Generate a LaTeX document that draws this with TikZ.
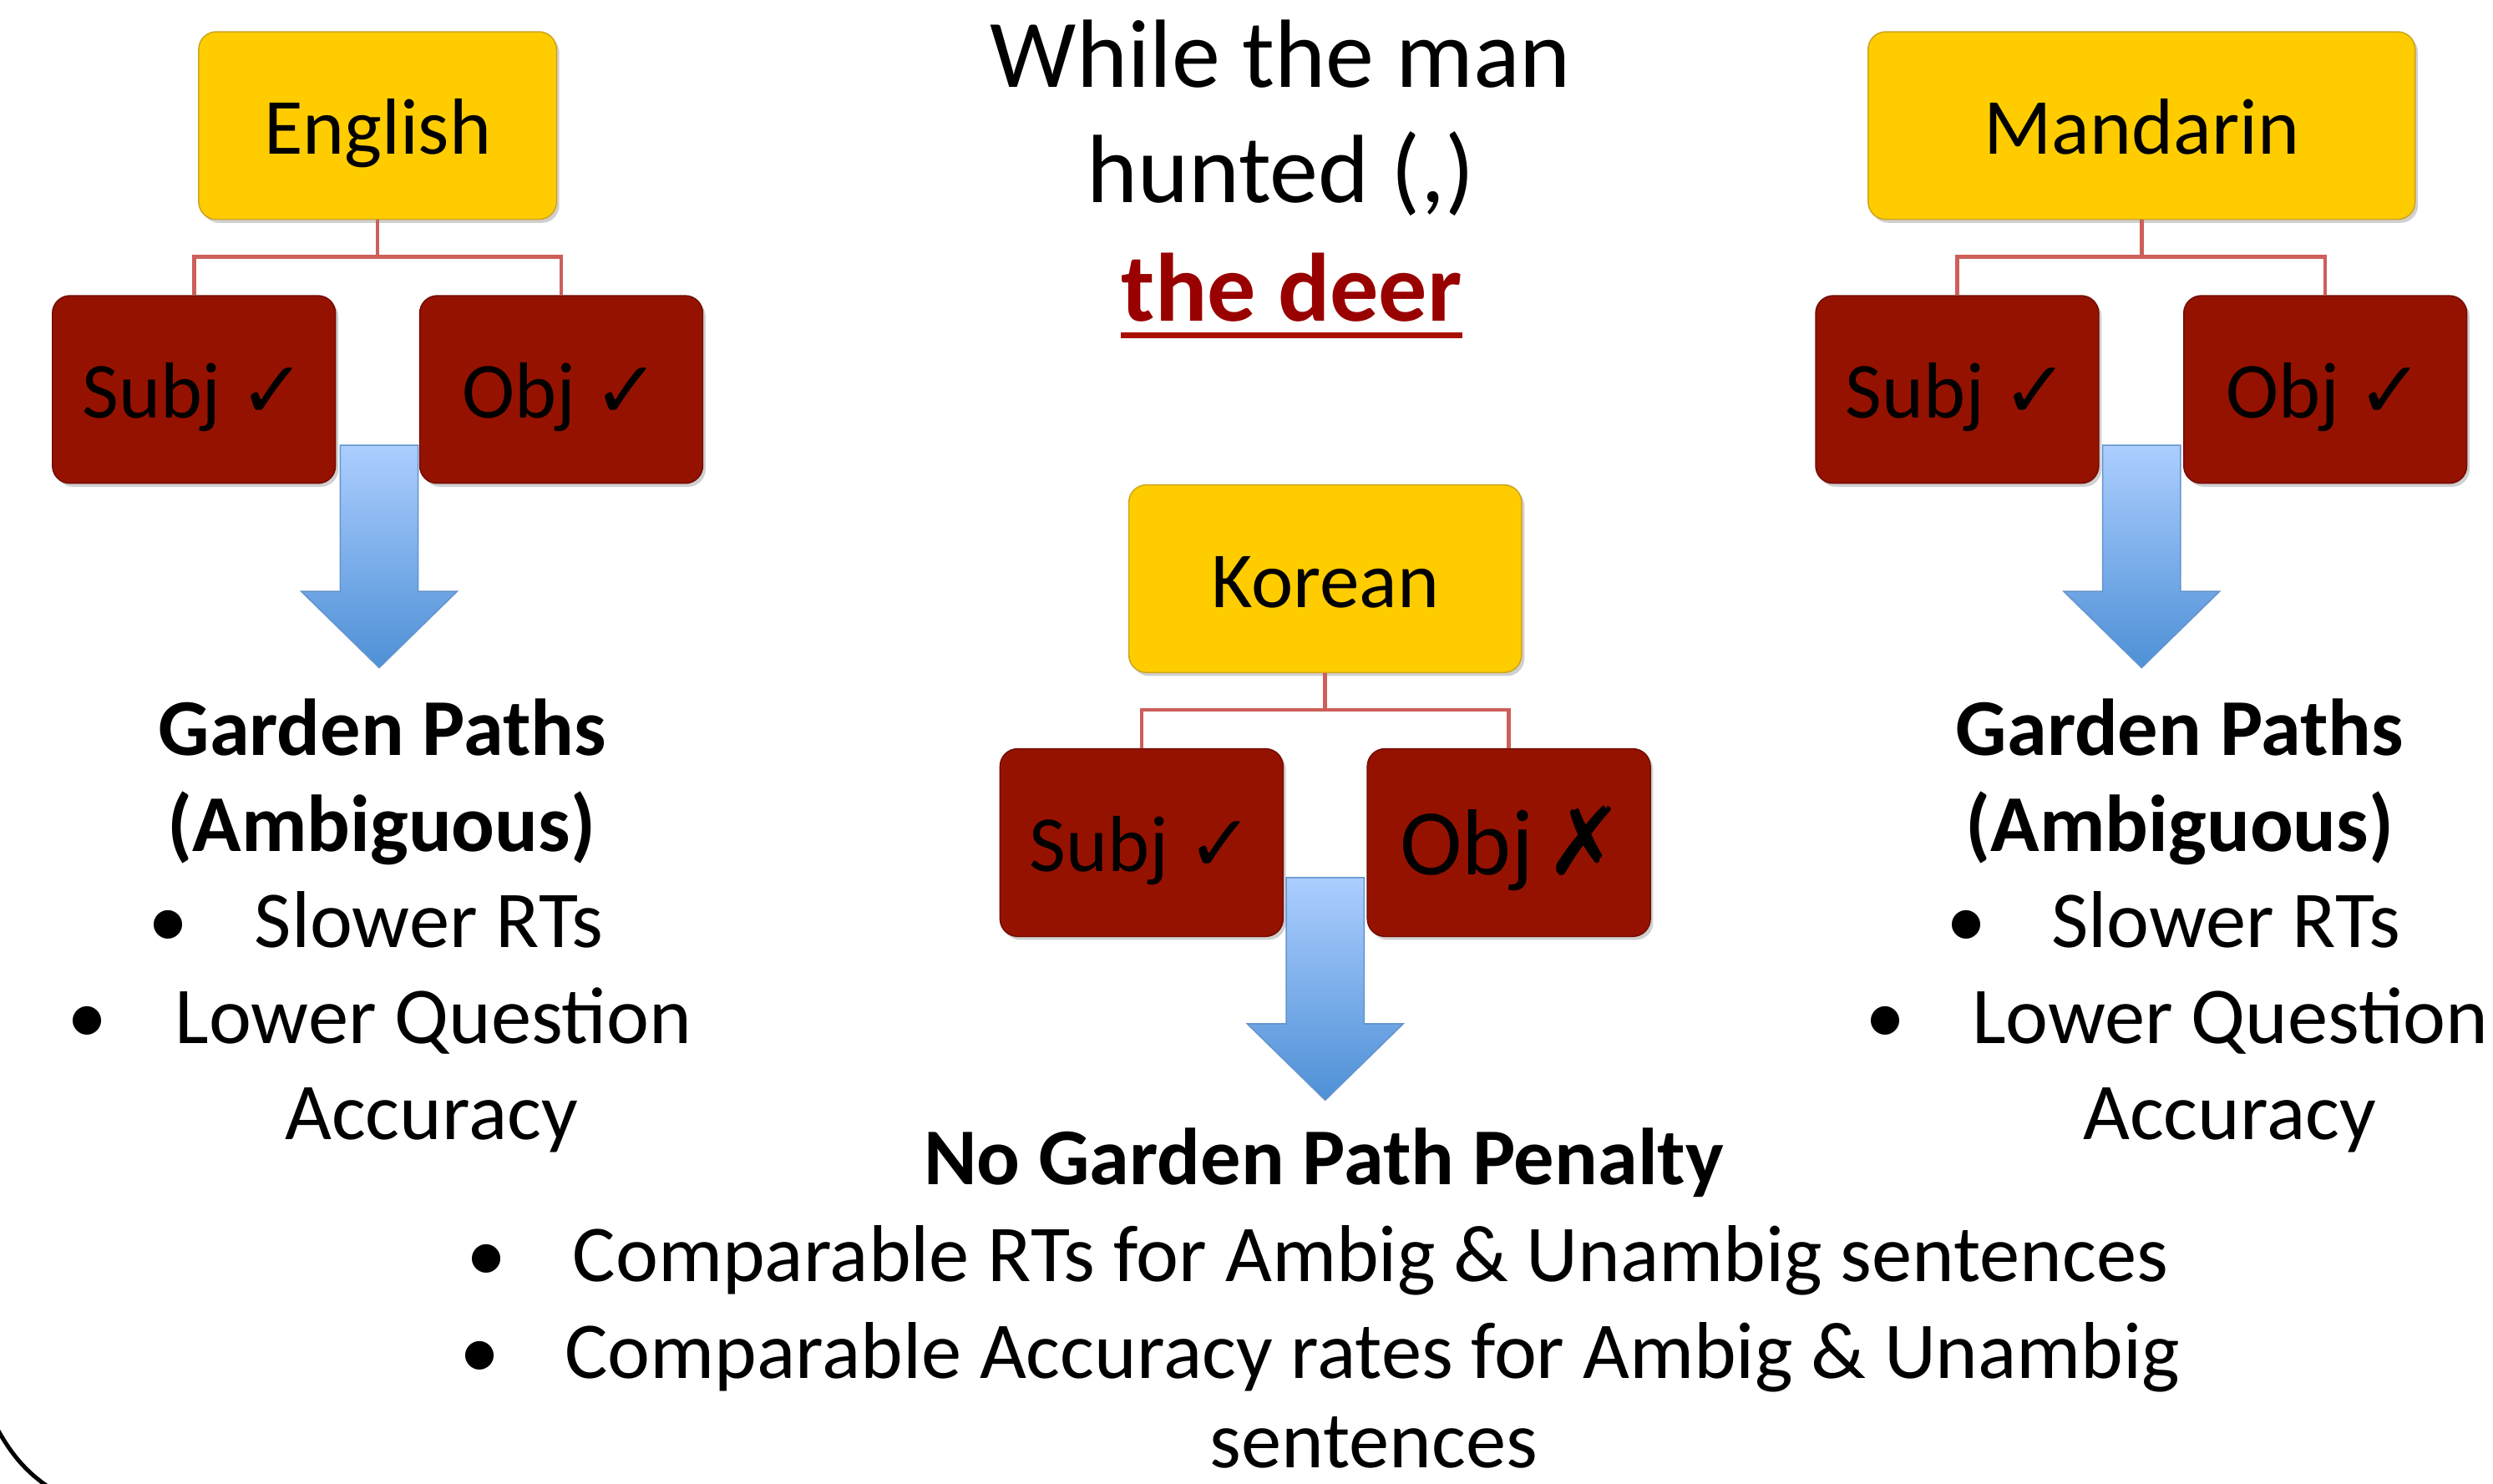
\documentclass[tikz,border=0pt]{standalone}
\usepackage{fontspec}
\setmainfont{Carlito}
\newfontfamily\symfont{DejaVu Sans}
\usetikzlibrary{shadows}
\definecolor{boxyellow}{RGB}{255,204,0}
\definecolor{yellowborder}{RGB}{205,165,30}
\definecolor{boxred}{RGB}{150,18,0}
\definecolor{redborder}{RGB}{115,12,0}
\definecolor{connred}{RGB}{205,95,90}
\definecolor{titlered}{RGB}{153,0,0}
\definecolor{underred}{RGB}{170,16,0}
\definecolor{arrowtop}{RGB}{172,206,255}
\definecolor{arrowbot}{RGB}{78,144,214}
\definecolor{arrowborder}{RGB}{100,148,205}
\begin{document}
\begin{tikzpicture}[x=1pt,y=-1pt,
  boxbase/.style={rounded corners=11pt, line width=0.8pt, inner sep=0pt,
    minimum height=118pt, text height=36pt, text depth=0pt,
    font=\fontsize{50}{60}\selectfont,
    drop shadow={shadow xshift=1.8pt, shadow yshift=-2.2pt, opacity=0.3, fill=black!60}},
  langbox/.style={boxbase, draw=yellowborder, fill=boxyellow},
  rolebox/.style={boxbase, draw=redborder, fill=boxred, minimum width=178pt},
  conn/.style={draw=connred, line width=2.4pt},
  body/.style={inner sep=0pt, anchor=base, font=\fontsize{50.7}{61}\selectfont},
  bodyw/.style={body, anchor=base west},
  titletext/.style={inner sep=0pt, anchor=base, font=\fontsize{61}{73}\selectfont},
  downarrow/.pic={
    \path[draw=arrowborder, line width=0.8pt, top color=arrowtop, bottom color=arrowbot]
      (-24.5,0) -- (24.5,0) -- (24.5,92) -- (49,92) -- (0,140) -- (-49,92) -- (-24.5,92) -- cycle;
  }
]
\useasboundingbox (0,0) rectangle (1568,933);
\fill[white] (0,0) rectangle (1568,933);

% ---------- title ----------
\node[titletext] (t1) at (805.5,55) {While the man};
\node[titletext] (t2) at (805.5,127.5) {hunted (,)};
\node[titletext, text=titlered] (deer) at (812.5,202) {\bfseries the deer};
\draw[underred, line width=4pt] ([yshift=-9pt]deer.base west) -- ([yshift=-9pt]deer.base east);

% ---------- English ----------
\node[langbox, minimum width=225pt] (eng) at (237.5,79) {English};
\node[rolebox] (esubj) at (122,245) {Subj {\symfont ✓}};
\node[rolebox] (eobj) at (353,245) {Obj {\symfont ✓}};
\draw[conn] (eng.south) -- ++(0,23) coordinate (ej) -| (esubj.north);
\draw[conn] (ej) -| (eobj.north);
\pic at (238.5,280) {downarrow};
\node[body] (lgp) at (240.5,475) {\bfseries Garden Paths};
\node[body] (lamb) at (240,535.5) {\bfseries (Ambiguous)};
\node[body] (lb1) at (106,596) {•};
\node[bodyw] (ls1) at (160,596) {Slower RTs};
\node[body] (lb2) at (55,656.5) {•};
\node[bodyw] (ll2) at (110,656.5) {Lower Question};
\node[bodyw] (la3) at (179,717) {Accuracy};

% ---------- Mandarin ----------
\node[langbox, minimum width=344pt] (man) at (1347,79) {Mandarin};
\node[rolebox] (msubj) at (1231,245) {Subj {\symfont ✓}};
\node[rolebox] (mobj) at (1462.5,245) {Obj {\symfont ✓}};
\draw[conn] (man.south) -- ++(0,23) coordinate (mj) -| (msubj.north);
\draw[conn] (mj) -| (mobj.north);
\pic at (1347,280) {downarrow};
\node[body] (rgp) at (1371,475) {\bfseries Garden Paths};
\node[body] (ramb) at (1371,535.5) {\bfseries (Ambiguous)};
\node[body] (rb1) at (1237,596) {•};
\node[bodyw] (rs1) at (1290,596) {Slower RTs};
\node[body] (rb2) at (1186,656.5) {•};
\node[bodyw] (rl2) at (1240,656.5) {Lower Question};
\node[bodyw] (ra3) at (1310,717) {Accuracy};

% ---------- Korean ----------
\node[langbox, minimum width=247pt] (kor) at (833.5,364) {Korean};
\node[rolebox] (ksubj) at (718,530) {Subj {\symfont ✓}};
\node[rolebox, text height=40pt, font=\fontsize{59}{70}\selectfont] (kobj) at (949,530) {\hspace{4pt}Obj\hspace{0.12em}{\symfont ✗}};
\draw[conn] (kor.south) -- ++(0,23) coordinate (kj) -| (kobj.north);
\draw[conn] (kj) -| (ksubj.north);
\pic at (833.5,552) {downarrow};
\node[body] (kgp) at (832.5,745) {\bfseries No Garden Path Penalty};
\node[body] (kb1) at (306,806) {•};
\node[bodyw] (kc1) at (360,806) {Comparable RTs for Ambig \& Unambig sentences};
\node[body] (kb2) at (302,867) {•};
\node[bodyw] (kc2) at (355,867) {Comparable Accuracy rates for Ambig \& Unambig};
\node[body] (ks3) at (864,923) {sentences};

% ---------- corner arc ----------
\draw[line width=2.6pt] (-1,900) .. controls (8,916) and (17,926) .. (30,935);
\end{tikzpicture}
\end{document}
